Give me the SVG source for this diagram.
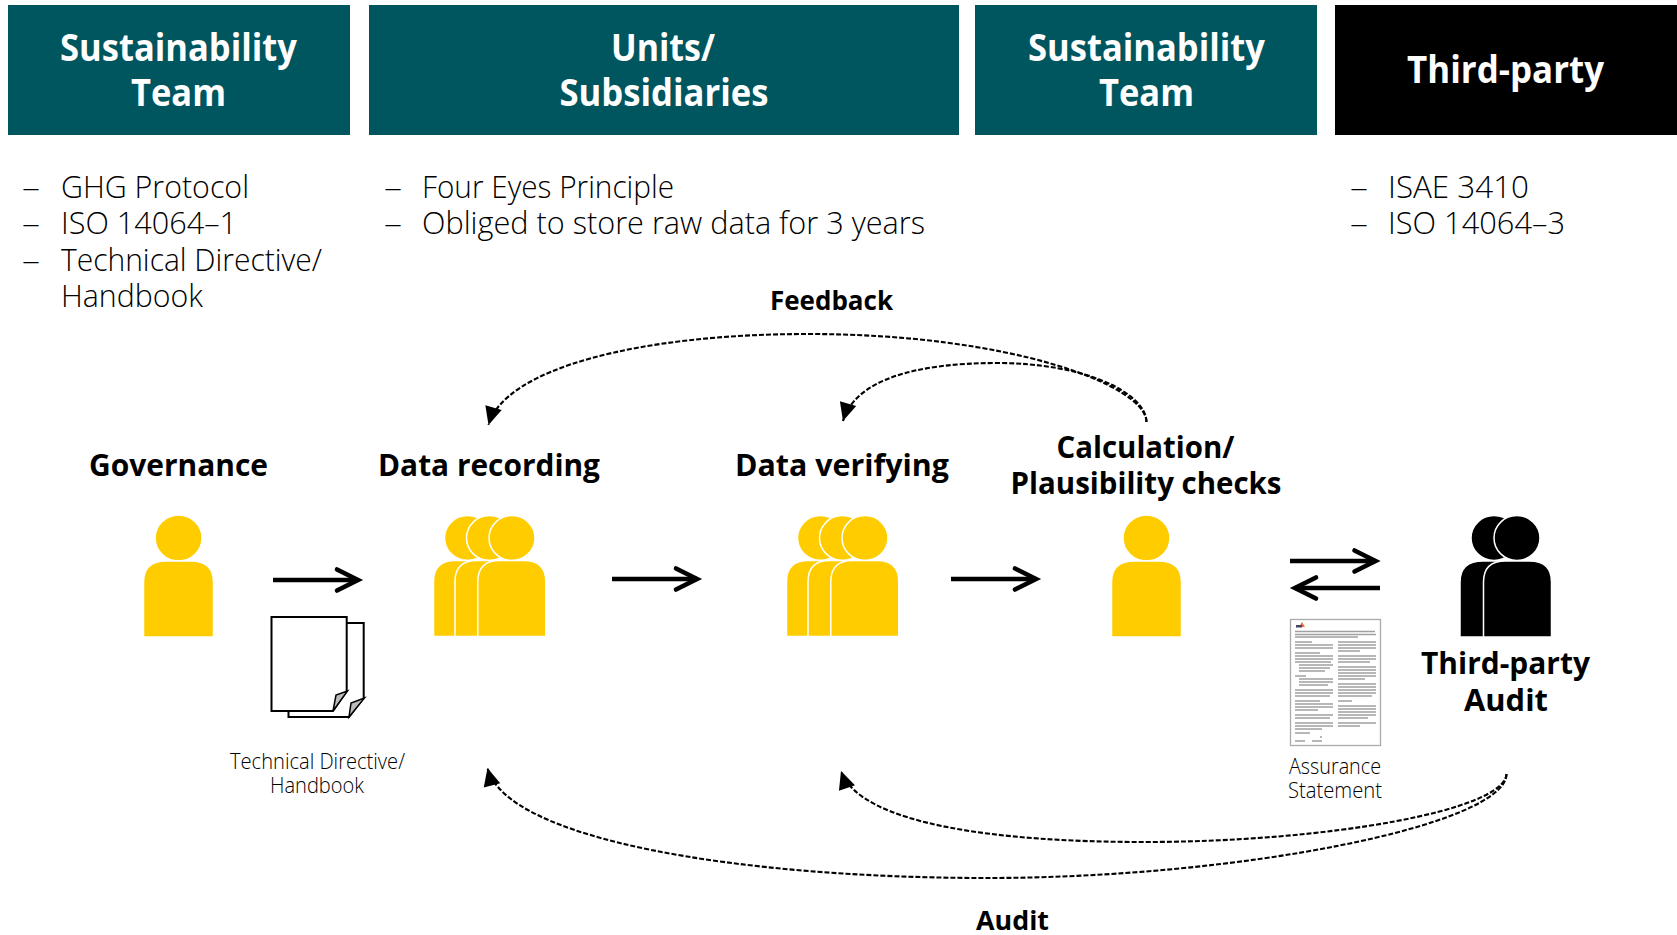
<svg xmlns="http://www.w3.org/2000/svg" width="1677" height="935" viewBox="0 0 1677 935">
<style>
text{font-family:"Open Sans","Noto Sans","Liberation Sans",sans-serif;fill:#000}
.hd{font-size:37px;font-weight:700;fill:#fff}
.bd{font-size:31px;font-weight:300}
.lb{font-size:31px;font-weight:700}
.sm{font-size:22px;font-weight:300}
.fl{font-size:27px;font-weight:700}
.teal{fill:#00565f}
.y{fill:#ffcc00;stroke:#fff;stroke-width:1.5}
.k{fill:#000;stroke:#fff;stroke-width:1.5}
.sa{fill:none;stroke:#000;stroke-width:4.6;marker-end:url(#open)}
.da{fill:none;stroke:#000;stroke-width:2.1;stroke-dasharray:5 2;marker-end:url(#tri)}
.pg{fill:#fff;stroke:#000;stroke-width:2}
.dl{fill:none;stroke:#a0a0a0;stroke-width:1.5}
</style>
<defs>
<marker id="open" markerUnits="userSpaceOnUse" markerWidth="34" markerHeight="34" refX="28" refY="17" orient="auto" overflow="visible">
<path d="M7 6.5 L28 17 L7 27.5" fill="none" stroke="#000" stroke-width="4.6" stroke-linecap="round" stroke-linejoin="miter"/>
</marker>
<marker id="tri" markerUnits="userSpaceOnUse" markerWidth="22" markerHeight="22" refX="19" refY="11" orient="auto">
<path d="M1 2.5 L19 11 L1 19.5 Z" fill="#000"/>
</marker>
<filter id="soft" x="-5%" y="-5%" width="110%" height="110%"><feGaussianBlur stdDeviation="0.45"/></filter>
<g id="p1">
<path d="M0 76 V21 Q0 0 23 0 H47 Q70 0 70 21 V76 Z"/>
</g>
<g id="p2">
<path d="M0 76 V21 Q0 0 22 0 H46 Q68 0 68 21 V76 Z"/>
</g>
</defs>
<rect width="1677" height="935" fill="#fff"/>

<g id="header-sustainability-1">
<rect class="teal" x="8" y="5" width="342" height="130"/>
<text class="hd" x="60" y="60.5" textLength="237" lengthAdjust="spacingAndGlyphs">Sustainability</text>
<text class="hd" x="131" y="105.5" textLength="95" lengthAdjust="spacingAndGlyphs">Team</text>
</g>
<g id="header-units">
<rect class="teal" x="369" y="5" width="590" height="130"/>
<text class="hd" x="611" y="60.5" textLength="104" lengthAdjust="spacingAndGlyphs">Units/</text>
<text class="hd" x="559.5" y="105.5" textLength="209" lengthAdjust="spacingAndGlyphs">Subsidiaries</text>
</g>
<g id="header-sustainability-2">
<rect class="teal" x="975" y="5" width="342" height="130"/>
<text class="hd" x="1028" y="60.5" textLength="237" lengthAdjust="spacingAndGlyphs">Sustainability</text>
<text class="hd" x="1099" y="105.5" textLength="95" lengthAdjust="spacingAndGlyphs">Team</text>
</g>
<g id="header-third-party">
<rect x="1335" y="5" width="342" height="130" fill="#000"/>
<text class="hd" x="1407" y="82.5" textLength="197" lengthAdjust="spacingAndGlyphs">Third-party</text>
</g>

<g id="list-standards">
<text class="bd" x="22" y="198" textLength="18" lengthAdjust="spacingAndGlyphs">–</text>
<text class="bd" x="61" y="198" textLength="188" lengthAdjust="spacingAndGlyphs">GHG Protocol</text>
<text class="bd" x="22" y="234" textLength="18" lengthAdjust="spacingAndGlyphs">–</text>
<text class="bd" x="61" y="234" textLength="176" lengthAdjust="spacingAndGlyphs">ISO 14064–1</text>
<text class="bd" x="22" y="271" textLength="18" lengthAdjust="spacingAndGlyphs">–</text>
<text class="bd" x="61" y="271" textLength="261" lengthAdjust="spacingAndGlyphs">Technical Directive/</text>
<text class="bd" x="61" y="307" textLength="142" lengthAdjust="spacingAndGlyphs">Handbook</text>
</g>
<g id="list-units">
<text class="bd" x="384" y="198" textLength="18" lengthAdjust="spacingAndGlyphs">–</text>
<text class="bd" x="422" y="198" textLength="252" lengthAdjust="spacingAndGlyphs">Four Eyes Principle</text>
<text class="bd" x="384" y="234" textLength="18" lengthAdjust="spacingAndGlyphs">–</text>
<text class="bd" x="422" y="234" textLength="503" lengthAdjust="spacingAndGlyphs">Obliged to store raw data for 3 years</text>
</g>
<g id="list-third-party">
<text class="bd" x="1350" y="198" textLength="18" lengthAdjust="spacingAndGlyphs">–</text>
<text class="bd" x="1388" y="198" textLength="141" lengthAdjust="spacingAndGlyphs">ISAE 3410</text>
<text class="bd" x="1350" y="234" textLength="18" lengthAdjust="spacingAndGlyphs">–</text>
<text class="bd" x="1388" y="234" textLength="177" lengthAdjust="spacingAndGlyphs">ISO 14064–3</text>
</g>

<g id="connectors">
<path class="da" d="M1146.5 422 C1146 385 1010 334 808 334 C640 334 505 368 488.5 425"/>
<path class="da" d="M1146.5 422 C1146 393 1085 363 997 363 C915 363 855 380 843 421"/>
<path class="da" d="M1506.5 774 C1506 825 1240 878 987 878 C740 878 506 840 487.5 768"/>
<path class="da" d="M1506.5 774 C1505 810 1330 842 1143 842 C1000 842 860 825 841 771"/>
<line class="sa" x1="273" y1="580" x2="358" y2="580"/>
<line class="sa" x1="612" y1="579" x2="697" y2="579"/>
<line class="sa" x1="951" y1="579" x2="1036" y2="579"/>
<line class="sa" x1="1290" y1="561" x2="1375.5" y2="561"/>
<line class="sa" x1="1380" y1="588" x2="1295" y2="588"/>
</g>

<g id="governance">
<text class="lb" x="89" y="476" textLength="179" lengthAdjust="spacingAndGlyphs">Governance</text>
<ellipse class="y" cx="178.6" cy="538" rx="23.5" ry="23"/>
<use href="#p1" class="y" x="143.5" y="561"/>
</g>
<g id="data-recording">
<text class="lb" x="378" y="476" textLength="222" lengthAdjust="spacingAndGlyphs">Data recording</text>
<ellipse class="y" cx="467.5" cy="538" rx="23" ry="22.5"/>
<use href="#p2" class="y" x="433.5" y="560.5"/>
<ellipse class="y" cx="489.5" cy="538" rx="23" ry="22.5"/>
<use href="#p2" class="y" x="455" y="560.5"/>
<ellipse class="y" cx="512" cy="538" rx="23" ry="22.5"/>
<use href="#p2" class="y" x="477.8" y="560.5"/>
</g>
<g id="data-verifying">
<text class="lb" x="735" y="476" textLength="214" lengthAdjust="spacingAndGlyphs">Data verifying</text>
<ellipse class="y" cx="820.5" cy="538" rx="23" ry="22.5"/>
<use href="#p2" class="y" x="786.5" y="560.5"/>
<ellipse class="y" cx="842.5" cy="538" rx="23" ry="22.5"/>
<use href="#p2" class="y" x="808" y="560.5"/>
<ellipse class="y" cx="865" cy="538" rx="23" ry="22.5"/>
<use href="#p2" class="y" x="830.8" y="560.5"/>
</g>
<g id="calculation">
<text class="lb" x="1056.5" y="458" textLength="178" lengthAdjust="spacingAndGlyphs">Calculation/</text>
<text class="lb" x="1010.5" y="494" textLength="271" lengthAdjust="spacingAndGlyphs">Plausibility checks</text>
<ellipse class="y" cx="1146.5" cy="538" rx="23.5" ry="23"/>
<use href="#p1" class="y" x="1111.5" y="561"/>
</g>
<g id="third-party-audit">
<ellipse class="k" cx="1494" cy="538" rx="23" ry="22.5"/>
<use href="#p1" class="k" x="1460" y="561"/>
<ellipse class="k" cx="1517" cy="538" rx="23" ry="22.5"/>
<use href="#p2" class="k" x="1483.5" y="561"/>
<text class="lb" x="1421" y="674" textLength="169" lengthAdjust="spacingAndGlyphs">Third-party</text>
<text class="lb" x="1464" y="711" textLength="84" lengthAdjust="spacingAndGlyphs">Audit</text>
</g>

<g id="handbook-document">
<path class="pg" d="M288.5 623 H363.7 V698 L349 717 H288.5 Z"/>
<path d="M364.5 698 L351 703 L349 717 Z" fill="#bbb" stroke="#000" stroke-width="1.5"/>
<path class="pg" d="M271.5 617 H346.7 V691 L333 711 H271.5 Z"/>
<path d="M347.5 691 L336 695 L333 711 Z" fill="#bbb" stroke="#000" stroke-width="1.5"/>
<text class="sm" x="230" y="769" textLength="175" lengthAdjust="spacingAndGlyphs">Technical Directive/</text>
<text class="sm" x="270" y="793" textLength="94" lengthAdjust="spacingAndGlyphs">Handbook</text>
</g>

<g id="assurance-statement">
<rect x="1290.5" y="619.5" width="90" height="126" fill="#fff" stroke="#aaa" stroke-width="1.3"/>
<g filter="url(#soft)">
<path d="M1299 627 l3 -5 l3 5 Z" fill="#e8703a"/>
<rect x="1296" y="625" width="6" height="2.5" fill="#446"/>
<path class="dl" d="M1295 631.5H1375M1295 634.5H1376M1295 637H1358
M1295 642H1312M1295 645H1333M1295 648H1333M1295 653H1320M1295 656H1333M1295 659H1333M1295 662H1331M1299 665H1333M1299 668H1330M1299 671H1325M1295 676H1306M1299 679H1333M1299 682H1333M1299 685H1328M1295 690H1333M1295 693H1333M1295 696H1330M1295 701H1320M1295 704H1333M1295 707H1333M1295 710H1318M1295 715H1333M1295 718H1330M1295 723H1333M1295 726H1333M1295 729H1322
M1338 642H1376M1338 645H1376M1338 648H1376M1338 651H1360M1338 656H1376M1338 659H1376M1338 662H1370M1338 667H1376M1338 670H1376M1338 673H1376M1338 676H1376M1338 679H1365M1338 684H1376M1338 687H1376M1338 690H1376M1338 693H1376M1338 696H1372M1338 701H1352M1338 706H1376M1338 709H1376M1338 712H1376M1338 715H1376M1338 718H1368M1338 723H1376M1338 726H1360"/>
<path class="dl" d="M1295 733H1310M1295 741H1305M1312 741H1322M1320 737H1322"/>
</g>
<text class="sm" x="1289" y="774" textLength="92" lengthAdjust="spacingAndGlyphs">Assurance</text>
<text class="sm" x="1288" y="798" textLength="94" lengthAdjust="spacingAndGlyphs">Statement</text>
</g>

<g id="label-feedback"><text class="fl" x="770" y="310" textLength="123" lengthAdjust="spacingAndGlyphs">Feedback</text></g>
<g id="label-audit"><text class="fl" x="976" y="930" textLength="73" lengthAdjust="spacingAndGlyphs">Audit</text></g>
</svg>
